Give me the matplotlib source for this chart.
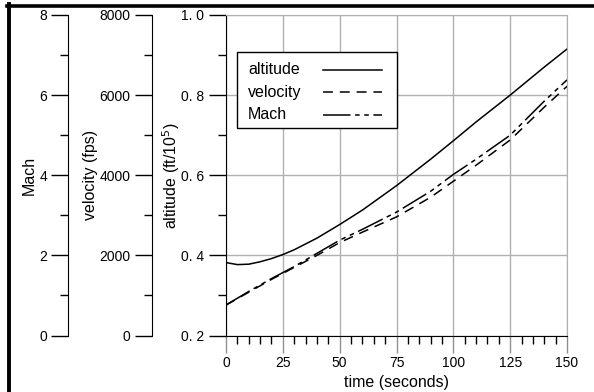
"""
Trajectory summary: altitude / velocity / Mach vs time on one frame,
with stacked left axes for the three quantities.
"""

import matplotlib
matplotlib.use("Agg")
import matplotlib.pyplot as plt
from matplotlib.lines import Line2D
from matplotlib.patches import Rectangle
from matplotlib.ticker import MultipleLocator

plt.rcParams["font.family"] = ["Liberation Sans", "DejaVu Sans"]
plt.rcParams["font.size"] = 10
LABEL_SIZE = 11.5
VEL_DASH = (6.5, 4.5)
MACH_DASH = (18, 3, 3, 3, 3, 3)

# time samples (s)
time_s = [0, 5, 10, 15, 20, 25, 30, 40, 50, 60, 75, 90, 100, 110, 125, 140, 150]
# altitude (ft / 1e5)
altitude = [0.382, 0.377, 0.378, 0.384, 0.392, 0.402, 0.414, 0.443, 0.477,
            0.513, 0.574, 0.640, 0.686, 0.733, 0.800, 0.870, 0.915]
# velocity (fps)
velocity = [760, 920, 1080, 1240, 1400, 1550, 1700, 2000, 2320, 2580, 2960,
            3450, 3850, 4250, 4880, 5700, 6220]
# Mach number
mach = [0.76, 0.93, 1.10, 1.26, 1.42, 1.57, 1.72, 2.05, 2.38, 2.65, 3.08,
        3.60, 4.02, 4.40, 5.00, 5.85, 6.38]

alt_ticks = [0.2, 0.4, 0.6, 0.8, 1.0]
alt_ticklabels = ["0. 2", "0. 4", "0. 6", "0. 8", "1. 0"]
time_ticks = [0, 25, 50, 75, 100, 125, 150]
series_names = ["altitude", "velocity", "Mach"]

fig = plt.figure(figsize=(5.94, 3.92), dpi=100)
ax = fig.add_axes([226 / 594, 1 - 335.5 / 392, 341 / 594, 320.5 / 392])


def px(x, y):
    # pixel position -> main axes fraction
    return (x - 226) / 341, (335.5 - y) / 320.5


# main axis: altitude
ax.plot(time_s, altitude, color="black", lw=1.1)
ax.set_xlim(0, 150)
ax.set_ylim(0.2, 1.0)
ax.set_xticks(time_ticks)
ax.xaxis.set_minor_locator(MultipleLocator(5))
ax.set_yticks(alt_ticks)
ax.set_yticklabels(alt_ticklabels)
ax.yaxis.set_minor_locator(MultipleLocator(0.1))
ax.grid(True, which="major", color="#b0b0b0", lw=1)
ax.set_axisbelow(True)
ax.tick_params(axis="y", which="major", length=12, width=1, direction="out", pad=4)
ax.tick_params(axis="y", which="minor", length=6, width=1, direction="out")
ax.tick_params(axis="x", which="major", length=12, width=1, direction="out",
               color="#909090", pad=3)
ax.tick_params(axis="x", which="minor", length=6, width=1, direction="out")
for s in ["top", "right"]:
    ax.spines[s].set_color("#b0b0b0")
for s in ["left", "bottom"]:
    ax.spines[s].set_color("black")
ax.set_xlabel("time (seconds)", fontsize=LABEL_SIZE)
ax.xaxis.set_label_coords(0.5, -0.122)
ax.set_ylabel("altitude (ft/10$^5$)", fontsize=LABEL_SIZE)
ax.yaxis.set_label_coords(-0.128, 0.5)


def side_axis(offset, ylim, major, minor, label, label_x):
    a = ax.twinx()
    a.yaxis.tick_left()
    a.yaxis.set_label_position("left")
    a.spines["left"].set_position(("axes", offset))
    a.spines["left"].set_visible(True)
    for s in ["right", "top", "bottom"]:
        a.spines[s].set_visible(False)
    a.set_ylim(*ylim)
    a.yaxis.set_major_locator(MultipleLocator(major))
    a.yaxis.set_minor_locator(MultipleLocator(minor))
    a.tick_params(axis="y", which="major", length=12, width=1, pad=3)
    a.tick_params(axis="y", which="minor", length=6, width=1)
    a.set_ylabel(label, fontsize=LABEL_SIZE)
    a.yaxis.set_label_coords(label_x, 0.5)
    return a


vax = side_axis((151.5 - 226) / 341, (0, 8000), 2000, 1000, "velocity (fps)", -0.375)
vax.plot(time_s, velocity, color="black", lw=1.1, dashes=VEL_DASH)

max_ = side_axis((68 - 226) / 341, (0, 8), 2, 1, "Mach", -0.555)
max_.plot(time_s, mach, color="black", lw=1.1, dashes=MACH_DASH)

# legend box: labels left-aligned, line samples on the right
x0, y0 = px(236.7, 128)
x1, y1 = px(397, 52)
max_.add_patch(Rectangle((x0, y0), x1 - x0, y1 - y0, transform=ax.transAxes,
                         facecolor="white", edgecolor="black", lw=1, zorder=5))
styles = [dict(), dict(dashes=VEL_DASH), dict(dashes=MACH_DASH)]
for name, row_y, st in zip(series_names, [70, 92, 114.5], styles):
    tx, ty = px(248, row_y)
    max_.text(tx, ty, name, transform=ax.transAxes, ha="left", va="center",
              fontsize=LABEL_SIZE, zorder=6)
    hx0, hy = px(323, row_y)
    hx1, _ = px(382, row_y)
    max_.add_line(Line2D([hx0, hx1], [hy, hy], transform=ax.transAxes,
                         color="black", lw=1.1, zorder=6, **st))

# outer frame (top and left edges visible)
fig.add_artist(Line2D([7 / 594, 1], [1 - 5.5 / 392] * 2, color="black", lw=2.6,
                      transform=fig.transFigure))
fig.add_artist(Line2D([9 / 594] * 2, [0, 1 - 4 / 392], color="black", lw=2.8,
                      transform=fig.transFigure))

fig.savefig("out.png", dpi=100)
